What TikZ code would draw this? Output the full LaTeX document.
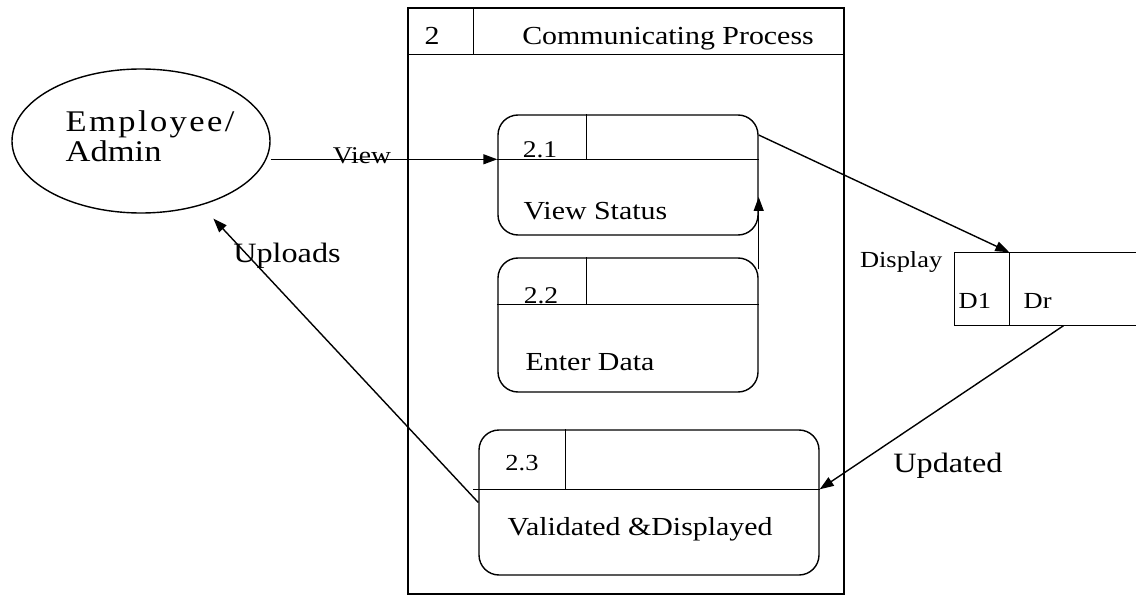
\documentclass[tikz,border=0pt]{standalone}
\usepackage{fontspec}
\setmainfont[FakeStretch=1.15]{Liberation Serif}
\usetikzlibrary{positioning,arrows.meta,shapes.geometric}
\tikzset{
  proc/.style={draw, rounded corners=10pt, inner sep=0pt},
  flow/.style={-{Triangle[length=7pt,width=5pt]}},
  lbl/.style={inner sep=0pt, font=\fontsize{13}{15}\selectfont},
  flowlbl/.style={inner sep=0pt, font=\fontsize{14}{16}\selectfont},
  small/.style={inner sep=0pt, font=\fontsize{11.5}{14}\selectfont}
}

\begin{document}
\begin{tikzpicture}[x=0.5pt, y=-0.5pt, line width=0.7pt]
  \useasboundingbox (0,0) rectangle (1136,599);

  % process 2 frame
  \node [draw, inner sep=0pt, minimum width=218pt, minimum height=293pt] (Proc) at (626,301) {};
  \draw ([yshift=-23.5pt]Proc.north west) coordinate (Hd) -- (Hd -| Proc.east);
  \draw ([xshift=33pt]Proc.north west) -- ([xshift=33pt]Hd);
  \node [lbl, anchor=base] (ProcNo) at (432,45) {2};
  \node [lbl, anchor=base] (ProcName) at (668,45) {Communicating Process};

  % external entity
  \node [draw, ellipse, inner sep=0pt, minimum width=129pt, minimum height=72pt] (Emp) at (141,141) {};
  \node [inner sep=0pt, anchor=north west, align=left, font=\fontsize{15}{15}\selectfont] (EmpTxt) at (65,110) {{\addfontfeature{LetterSpace=8}Employee/}\\Admin};

  % 2.1
  \node [proc, minimum width=130pt, minimum height=60pt] (P1) at (628,175) {};
  \draw ([yshift=-22.5pt]P1.north west) coordinate (P1d) -- (P1d -| P1.east);
  \draw ([xshift=44.5pt]P1.north west) -- ([xshift=44.5pt]P1d);
  \node [small, font=\fontsize{12}{14}\selectfont, anchor=base] (P1no) at (540,158) {2.1};
  \node [lbl, anchor=base west] (P1name) at (523,220) {View Status};

  % 2.2
  \node [proc, minimum width=130pt, minimum height=67pt] (P2) at (628,325) {};
  \draw ([yshift=-23.5pt]P2.north west) coordinate (P2d) -- (P2d -| P2.east);
  \draw ([xshift=44.5pt]P2.north west) -- ([xshift=44.5pt]P2d);
  \node [small, font=\fontsize{12}{14}\selectfont, anchor=base] (P2no) at (541,303) {2.2};
  \node [lbl, anchor=base west] (P2name) at (525,370) {Enter Data};

  % 2.3
  \node [proc, minimum width=170pt, minimum height=72.5pt] (P3) at (649,502.5) {};
  \draw ([yshift=-30pt,xshift=-2.5pt]P3.north west) coordinate (P3d) -- (P3d -| P3.east);
  \draw ([xshift=43.5pt]P3.north west) -- ([xshift=43.5pt]P3d -| P3.west);
  \node [small, anchor=base] (P3no) at (522,470) {2.3};
  \node [lbl, anchor=base west] (P3name) at (507,535) {Validated \&Displayed};

  % data store
  \node [inner sep=0pt, minimum width=90.5pt, minimum height=36pt] (DS) at (1045.5,289) {};
  \draw (DS.north east) -- (DS.north west) -- (DS.south west) -- (DS.south east);
  \draw (DS.north west) ++(27.5pt,0) coordinate (DSin) -- (DSin |- DS.south);
  \node [small, anchor=base west] (DSno) at (958,308) {D1};
  \node [small, anchor=base west] (DSname) at (1023,308) {Dr};
  \node [small, anchor=base east] (DSlbl) at (943,267) {Display};

  % flows
  \draw [flow] (Emp.east |- P1d) -- (P1d);
  \node [flowlbl, font=\fontsize{12}{14}\selectfont, anchor=base] (ViewLbl) at (362,163) {View};
  \draw [flow] ([yshift=-6pt]P2.north east) -- ([yshift=-11pt]P1.east);
  \draw [flow] ([yshift=20pt]P1.east) -- (DSin);
  \draw [flow] ([xshift=9pt]DS.south) -- (P3d -| P3.east);
  \node [flowlbl, anchor=base] (UpdLbl) at (948,472) {Updated};
  \draw [flow, shorten >=9pt] (P3.west) -- (Emp);
  \node [flowlbl, anchor=base] (UplLbl) at (287,263) {Uploads};
\end{tikzpicture}
\end{document}
